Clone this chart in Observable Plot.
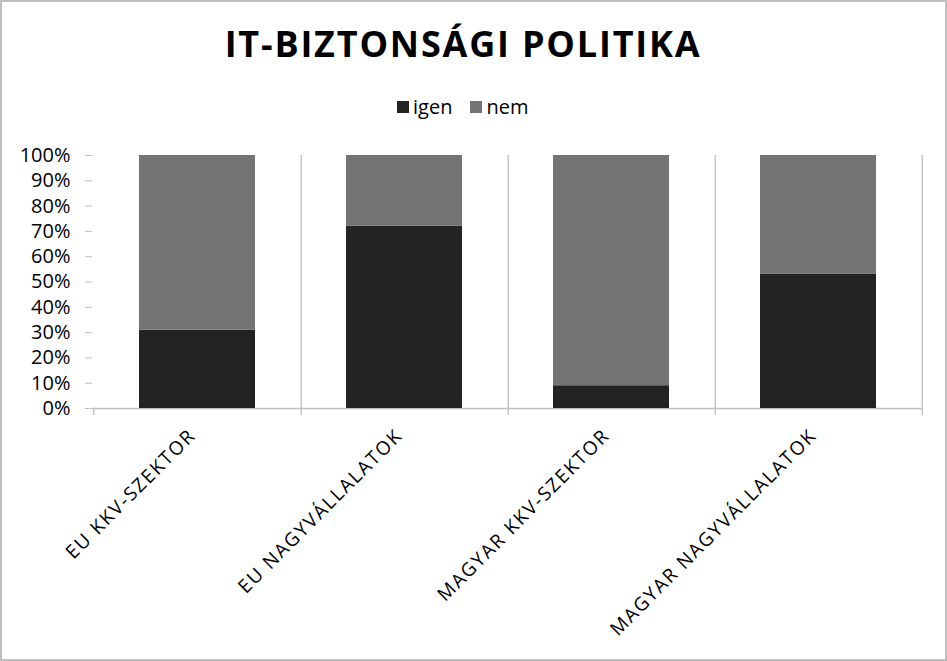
<!DOCTYPE html>
<html><head><meta charset="utf-8">
<script src="https://cdn.jsdelivr.net/npm/d3@7"></script>
<script src="https://cdn.jsdelivr.net/npm/@observablehq/plot@0.6"></script>
<style>
body{margin:0;background:#fff;}
#wrap{position:relative;width:947px;height:661px;overflow:hidden;background:#fff;font-family:"Open Sans",sans-serif;}
#title{position:absolute;left:0;top:26px;width:926px;text-align:center;font:700 36px/36px "Open Sans",sans-serif;letter-spacing:1.8px;color:#000;white-space:pre;}
#legend{position:absolute;left:397px;top:97px;height:20px;display:flex;align-items:center;font:20px/20px "Open Sans",sans-serif;color:#000;}
.sw{width:12px;height:12px;margin-right:4px;}
.item{display:flex;align-items:center;margin-right:18px;}
#chart{position:absolute;left:0;top:130px;}
#border{position:absolute;left:0;top:0;right:0;bottom:0;border:2px solid #bfbfbf;box-sizing:border-box;pointer-events:none;}
g[aria-label="y-axis tick label"] text{font-size:20px;}
g[aria-label="x-axis tick label"] text{font-size:19px;letter-spacing:1.7px;}
</style>
</head><body>
<div id="wrap">
  <div id="title">IT-BIZTONSÁGI POLITIKA</div>
  <div id="legend"></div>
  <div id="chart"></div>
  <div id="border"></div>
</div>
<script>
const categories = ["EU KKV-SZEKTOR", "EU NAGYVÁLLALATOK", "MAGYAR KKV-SZEKTOR", "MAGYAR NAGYVÁLLALATOK"];
const series = ["igen", "nem"];
const igen = [31, 72, 9, 53];
const nem = [69, 28, 91, 47];
const colors = ["#232323", "#747474"];
const yTicks = [0, 10, 20, 30, 40, 50, 60, 70, 80, 90, 100];

const rows = [];
categories.forEach((c, i) => rows.push({cat: c, series: "igen", value: igen[i]}));
categories.forEach((c, i) => rows.push({cat: c, series: "nem", value: nem[i]}));

const W = 947, H = 531, mL = 92, mR = 25, mT = 25, mB = 253;
const step = (W - mL - mR) / categories.length;
const grid = "#bfbfbf";

const legend = document.getElementById("legend");
series.forEach((s, i) => {
  const it = document.createElement("div");
  it.className = "item";
  const sw = document.createElement("div");
  sw.className = "sw";
  sw.style.background = colors[i];
  const t = document.createElement("span");
  t.textContent = s;
  it.appendChild(sw); it.appendChild(t);
  legend.appendChild(it);
});

const chart = Plot.plot({
  width: W, height: H,
  marginLeft: mL, marginRight: mR, marginTop: mT, marginBottom: mB,
  style: {fontFamily: "'Open Sans', sans-serif", background: "white", color: "black", overflow: "visible"},
  x: {type: "band", domain: categories, paddingInner: 0.44, paddingOuter: 0.22},
  y: {domain: [0, 100]},
  color: {domain: series, range: colors},
  marks: [
    Plot.ruleX(categories, {x: d => d, dx: step / 2, y1: 100, y2: 0, insetBottom: -7, stroke: grid, strokeWidth: 1.3}),
    Plot.ruleX([categories[0]], {x: d => d, dx: -step / 2, y1: 0, y2: 0, insetBottom: -7, stroke: grid, strokeWidth: 1.3}),
    Plot.ruleY([0], {stroke: grid, strokeWidth: 1.3}),
    Plot.barY(rows, {x: "cat", y: "value", fill: "series"}),
    Plot.axisY({ticks: yTicks, tickFormat: d => d + "%", tickSize: 7, tickPadding: 15, stroke: grid, fill: "black", label: null}),
    Plot.axisX({tickRotate: -45, tickSize: 0, tickPadding: 24, dx: -5, fill: "black", label: null})
  ]
});
document.getElementById("chart").appendChild(chart);
</script>
</body></html>
